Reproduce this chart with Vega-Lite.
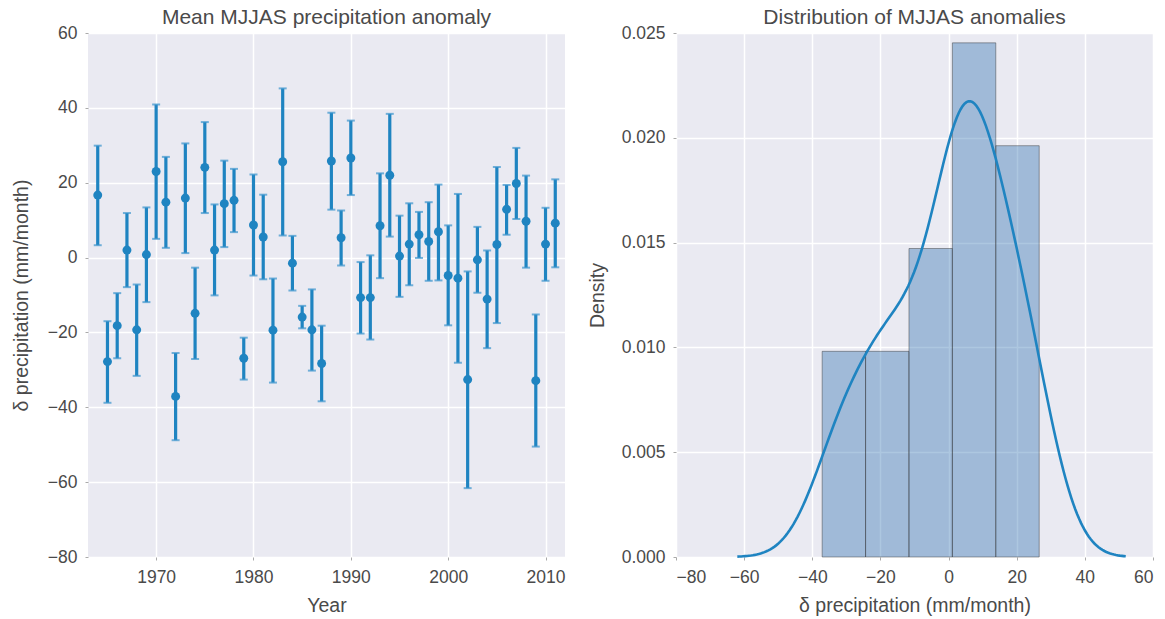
{
  "$schema": "https://vega.github.io/schema/vega-lite/v6.json",
  "background": "white",
  "padding": {"left": 11, "top": 7, "right": 5, "bottom": 3},
  "datasets": {
    "anom": [
      {"year": 1964, "mean": 16.7, "low": 3.3, "high": 29.9},
      {"year": 1965, "mean": -27.8, "low": -38.8, "high": -17.0},
      {"year": 1966, "mean": -18.2, "low": -26.9, "high": -9.5},
      {"year": 1967, "mean": 2.0, "low": -7.9, "high": 11.9},
      {"year": 1968, "mean": -19.3, "low": -31.6, "high": -7.2},
      {"year": 1969, "mean": 0.8, "low": -11.9, "high": 13.4},
      {"year": 1970, "mean": 23.0, "low": 5.0, "high": 40.9},
      {"year": 1971, "mean": 14.8, "low": 2.6, "high": 26.9},
      {"year": 1972, "mean": -37.1, "low": -48.8, "high": -25.5},
      {"year": 1973, "mean": 15.9, "low": 1.2, "high": 30.5},
      {"year": 1974, "mean": -14.9, "low": -27.1, "high": -2.7},
      {"year": 1975, "mean": 24.1, "low": 11.9, "high": 36.2},
      {"year": 1976, "mean": 2.0, "low": -10.1, "high": 14.2},
      {"year": 1977, "mean": 14.4, "low": 2.8, "high": 25.9},
      {"year": 1978, "mean": 15.3, "low": 6.8, "high": 23.7},
      {"year": 1979, "mean": -26.9, "low": -32.6, "high": -21.4},
      {"year": 1980, "mean": 8.7, "low": -4.8, "high": 22.2},
      {"year": 1981, "mean": 5.5, "low": -5.8, "high": 16.8},
      {"year": 1982, "mean": -19.4, "low": -33.4, "high": -5.6},
      {"year": 1983, "mean": 25.6, "low": 5.9, "high": 45.2},
      {"year": 1984, "mean": -1.5, "low": -8.8, "high": 5.8},
      {"year": 1985, "mean": -15.9, "low": -18.9, "high": -12.9},
      {"year": 1986, "mean": -19.3, "low": -30.2, "high": -8.5},
      {"year": 1987, "mean": -28.3, "low": -38.4, "high": -18.2},
      {"year": 1988, "mean": 25.8, "low": 12.8, "high": 38.7},
      {"year": 1989, "mean": 5.3, "low": -2.1, "high": 12.6},
      {"year": 1990, "mean": 26.6, "low": 16.7, "high": 36.6},
      {"year": 1991, "mean": -10.7, "low": -20.3, "high": -1.2},
      {"year": 1992, "mean": -10.7, "low": -21.9, "high": 0.6},
      {"year": 1993, "mean": 8.5, "low": -5.5, "high": 22.5},
      {"year": 1994, "mean": 22.0, "low": 5.6, "high": 38.4},
      {"year": 1995, "mean": 0.4, "low": -10.5, "high": 11.2},
      {"year": 1996, "mean": 3.6, "low": -7.4, "high": 14.5},
      {"year": 1997, "mean": 6.1, "low": -0.1, "high": 12.2},
      {"year": 1998, "mean": 4.3, "low": -6.2, "high": 14.8},
      {"year": 1999, "mean": 6.9, "low": -6.1, "high": 19.5},
      {"year": 2000, "mean": -4.8, "low": -18.1, "high": 8.6},
      {"year": 2001, "mean": -5.5, "low": -28.1, "high": 17.0},
      {"year": 2002, "mean": -32.6, "low": -61.6, "high": -3.7},
      {"year": 2003, "mean": -0.6, "low": -9.4, "high": 8.2},
      {"year": 2004, "mean": -11.1, "low": -24.2, "high": 1.9},
      {"year": 2005, "mean": 3.5, "low": -17.5, "high": 24.2},
      {"year": 2006, "mean": 12.9, "low": 6.1, "high": 19.4},
      {"year": 2007, "mean": 19.8, "low": 10.3, "high": 29.3},
      {"year": 2008, "mean": 9.7, "low": -2.7, "high": 21.9},
      {"year": 2009, "mean": -32.9, "low": -50.5, "high": -15.2},
      {"year": 2010, "mean": 3.6, "low": -6.2, "high": 13.3},
      {"year": 2011, "mean": 9.2, "low": -2.6, "high": 20.9}
    ],
    "hist": [
      {"lo": -37.1, "hi": -24.36, "density": 0.009812},
      {"lo": -24.36, "hi": -11.62, "density": 0.009812},
      {"lo": -11.62, "hi": 1.12, "density": 0.014718},
      {"lo": 1.12, "hi": 13.86, "density": 0.02453},
      {"lo": 13.86, "hi": 26.6, "density": 0.019623}
    ]
  },
  "config": {
    "font": "Liberation Sans",
    "view": {"fill": "#EAEAF2", "stroke": null},
    "axis": {
      "grid": true, "gridColor": "white", "gridWidth": 1.5,
      "domain": false, "tickSize": 3, "tickColor": "#aaaaaa",
      "labelFontSize": 17.5, "labelColor": "#4a4a4a", "labelPadding": 8,
      "titleFontSize": 19.5, "titleColor": "#4a4a4a", "titleFontWeight": "normal"
    },
    "title": {"fontSize": 21, "fontWeight": "normal", "color": "#4a4a4a", "offset": -4},
    "concat": {"spacing": 22}
  },
  "hconcat": [
    {
      "width": 477, "height": 524,
      "title": "Mean MJJAS precipitation anomaly",
      "data": {"name": "anom"},
      "encoding": {
        "x": {"field": "year", "type": "quantitative",
              "scale": {"domain": [1963, 2012], "nice": false, "zero": false},
              "axis": {"values": [1970, 1980, 1990, 2000, 2010], "format": "d", "title": "Year", "titlePadding": 11}}
      },
      "layer": [
        {
          "mark": {"type": "rule", "color": "#1f84c1", "strokeWidth": 3.2},
          "encoding": {
            "y": {"field": "low", "type": "quantitative",
                  "scale": {"domain": [-80, 60], "nice": false},
                  "axis": {"values": [-80, -60, -40, -20, 0, 20, 40, 60], "title": "δ precipitation (mm/month)", "titlePadding": 16}},
            "y2": {"field": "high"}
          }
        },
        {
          "mark": {"type": "tick", "orient": "horizontal", "color": "#3a94cd", "size": 8, "thickness": 2},
          "encoding": {"y": {"field": "low", "type": "quantitative"}}
        },
        {
          "mark": {"type": "tick", "orient": "horizontal", "color": "#3a94cd", "size": 8, "thickness": 2},
          "encoding": {"y": {"field": "high", "type": "quantitative"}}
        },
        {
          "mark": {"type": "circle", "size": 80, "opacity": 1, "color": "#1f84c1"},
          "encoding": {"y": {"field": "mean", "type": "quantitative"}}
        }
      ]
    },
    {
      "width": 477, "height": 524,
      "title": "Distribution of MJJAS anomalies",
      "layer": [
        {
          "data": {"name": "hist"},
          "mark": {"type": "rect", "fill": "#3172B1", "fillOpacity": 0.4, "stroke": "#333333", "strokeOpacity": 0.45, "strokeWidth": 1},
          "encoding": {
            "x": {"field": "lo", "type": "quantitative",
                  "scale": {"domain": [-80, 60], "nice": false},
                  "axis": {"values": [-80, -60, -40, -20, 0, 20, 40, 60], "title": "δ precipitation (mm/month)", "titlePadding": 11}},
            "x2": {"field": "hi"},
            "y": {"field": "density", "type": "quantitative",
                  "scale": {"domain": [0, 0.025], "nice": false},
                  "axis": {"values": [0, 0.005, 0.01, 0.015, 0.02, 0.025], "format": ".3f", "title": "Density", "titlePadding": 14}},
            "y2": {"datum": 0}
          }
        },
        {
          "data": {"name": "anom"},
          "transform": [{"density": "mean", "bandwidth": 8.4, "extent": [-62, 52], "steps": 200}],
          "mark": {"type": "line", "color": "#1f84c1", "strokeWidth": 2.6},
          "encoding": {
            "x": {"field": "value", "type": "quantitative"},
            "y": {"field": "density", "type": "quantitative"}
          }
        }
      ]
    }
  ]
}
